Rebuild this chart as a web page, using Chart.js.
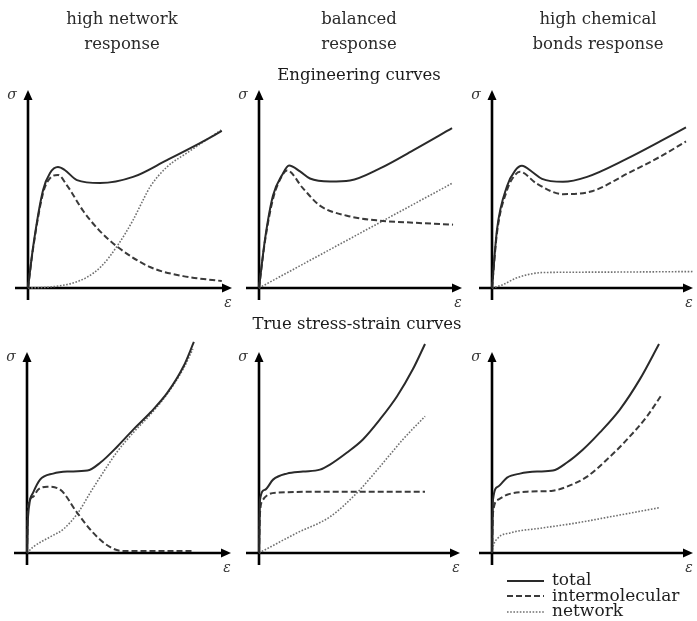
<!DOCTYPE html>
<html><head><meta charset="utf-8">
<script src="https://cdn.jsdelivr.net/npm/chart.js@4.4.0/dist/chart.umd.min.js"></script>
<style>
html,body{margin:0;padding:0;background:#fff;width:697px;height:621px;overflow:hidden;font-family:"DejaVu Serif",serif;}
#wrap{position:relative;width:697px;height:621px;}
#wrap canvas{position:absolute;left:0;top:0;}
.t{position:absolute;text-align:center;color:#2a2a2a;font-size:16.5px;line-height:25px;white-space:nowrap;transform:translateX(-50%);}
.h{position:absolute;text-align:center;color:#1a1a1a;font-size:16.5px;line-height:18px;white-space:nowrap;transform:translateX(-50%);}
#legend{position:absolute;left:507px;top:572px;font-size:17px;line-height:15.5px;color:#1e1e1e;}
#legend div{white-space:nowrap;height:15.5px;}
#legend svg{vertical-align:middle;margin-right:8px;}
</style></head><body>
<div id="wrap">
<canvas id="c1" width="697" height="621"></canvas>
<canvas id="c2" width="697" height="621"></canvas>
<canvas id="c3" width="697" height="621"></canvas>
<canvas id="c4" width="697" height="621"></canvas>
<canvas id="c5" width="697" height="621"></canvas>
<canvas id="c6" width="697" height="621"></canvas>
<div class="t" style="left:122px;top:6px">high network<br>response</div>
<div class="t" style="left:359px;top:6px">balanced<br>response</div>
<div class="t" style="left:598px;top:6px">high chemical<br>bonds response</div>
<div class="h" style="left:359px;top:66px">Engineering curves</div>
<div class="h" style="left:357px;top:315px">True stress-strain curves</div>
<div id="legend"></div>
</div>
<script>
// ---- data ----
const seriesNames = ['total', 'intermolecular', 'network'];
const columnTitles = ['high network response', 'balanced response', 'high chemical bonds response'];
const rowTitles = ['Engineering curves', 'True stress-strain curves'];
const axisMin = 0, axisMax = 10;

// Engineering curves
const engNetworkTotal = [[0,0],[0.25,2.07],[0.74,4.95],[1.08,5.81],[1.47,6.11],[1.8,5.96],[2.4,5.45],[3.53,5.3],[5.15,5.61],[6.81,6.46],[8.43,7.32],[9.5,7.93]];
const engNetworkInter = [[0,0],[0.25,2.0],[0.74,4.8],[1.08,5.55],[1.47,5.71],[1.9,5.2],[2.7,3.9],[3.5,2.9],[4.36,2.1],[5.98,1.06],[7.6,0.6],[9.5,0.35]];
const engNetworkNet   = [[0,0],[1.08,0.05],[2.2,0.25],[2.9,0.55],[3.6,1.1],[4.36,2.1],[5.15,3.43],[5.64,4.44],[5.98,5.1],[6.81,6.11],[7.79,6.82],[9.5,8.0]];

const engBalancedTotal = [[0,0],[0.3,2.49],[0.69,4.67],[1.13,5.69],[1.48,6.19],[2.02,5.89],[2.51,5.53],[3.5,5.38],[4.48,5.43],[5.96,6.04],[7.59,6.95],[9.51,8.07]];
const engBalancedInter = [[0,0],[0.3,2.4],[0.69,4.5],[1.1,5.6],[1.38,5.94],[2.17,5.03],[3.0,4.16],[4.33,3.65],[5.96,3.4],[7.59,3.3],[9.56,3.2]];
const engBalancedNet   = [[0,0],[9.5,5.28]];

const engChemTotal = [[0,0],[0.25,2.96],[0.75,5.15],[1.14,5.92],[1.49,6.17],[1.99,5.87],[2.49,5.51],[3.53,5.36],[4.73,5.61],[6.72,6.53],[8.36,7.4],[9.65,8.11]];
const engChemInter = [[0,0],[0.25,2.8],[0.75,4.95],[1.1,5.65],[1.39,5.87],[2.24,5.26],[3.53,4.74],[5.02,4.9],[6.72,5.77],[8.36,6.63],[9.65,7.4]];
const engChemNet   = [[0,0],[0.5,0.15],[1.2,0.5],[2.0,0.72],[2.5,0.78],[5,0.8],[10,0.83]];

// True stress-strain curves
const trueNetworkTotal = [[0,0],[0.05,1.8],[0.3,3.0],[0.64,3.65],[1.28,3.95],[1.97,4.05],[2.96,4.1],[3.6,4.5],[4.43,5.3],[5.22,6.15],[6.06,7.0],[6.9,8.0],[7.68,9.3],[8.18,10.5]];
const trueNetworkInter = [[0,0],[0.05,2.3],[0.3,2.8],[0.54,3.15],[0.99,3.3],[1.63,3.15],[2.46,2.0],[3.25,1.0],[4.06,0.3],[4.7,0.1],[8.18,0.1]];
const trueNetworkNet   = [[0,0],[0.3,0.3],[1.13,0.8],[1.8,1.2],[2.5,2.0],[3.1,3.0],[3.6,3.8],[4.43,5.05],[5.22,6.0],[6.06,6.9],[6.9,7.95],[7.68,9.2],[8.13,10.15]];

const trueBalancedTotal = [[0,0],[0.05,2.65],[0.3,3.15],[0.7,3.65],[1.39,3.95],[2.19,4.05],[3.03,4.15],[3.53,4.4],[4.38,5.0],[5.17,5.65],[6.02,6.65],[6.87,7.8],[7.66,9.15],[8.26,10.4]];
const trueBalancedInter = [[0,0],[0.05,2.0],[0.2,2.65],[0.45,2.9],[0.9,3.0],[3.53,3.05],[8.26,3.05]];
const trueBalancedNet   = [[0,0],[1.89,1.0],[3.53,1.8],[4.88,3.0],[6.02,4.3],[7.16,5.65],[8.26,6.8]];

const trueChemTotal = [[0,0],[0.05,2.65],[0.3,3.3],[0.75,3.75],[1.39,3.95],[2.24,4.05],[3.03,4.1],[3.73,4.5],[4.53,5.15],[5.37,6.0],[6.37,7.15],[7.36,8.65],[8.31,10.4]];
const trueChemInter = [[0,0],[0.05,2.0],[0.3,2.65],[0.75,2.9],[1.74,3.05],[3.03,3.1],[3.73,3.3],[4.73,3.8],[5.72,4.65],[6.72,5.65],[7.71,6.8],[8.46,7.9]];
const trueChemNet   = [[0,0],[0.05,0.3],[0.3,0.75],[0.9,1.0],[2.54,1.25],[4.23,1.5],[5.87,1.8],[8.31,2.25]];

// ---- layout & style (kept apart from data) ----
const W = 697, H = 621;
const panels = [
  {id:'c1', ox:28,  oy:288, rx:232, ty:90,  sets:[engNetworkTotal, engNetworkInter, engNetworkNet]},
  {id:'c2', ox:259, oy:288, rx:462, ty:90,  sets:[engBalancedTotal, engBalancedInter, engBalancedNet]},
  {id:'c3', ox:492, oy:288, rx:693, ty:90,  sets:[engChemTotal, engChemInter, engChemNet]},
  {id:'c4', ox:27,  oy:553, rx:231, ty:352, sets:[trueNetworkTotal, trueNetworkInter, trueNetworkNet]},
  {id:'c5', ox:259, oy:553, rx:460, ty:352, sets:[trueBalancedTotal, trueBalancedInter, trueBalancedNet]},
  {id:'c6', ox:492, oy:553, rx:693, ty:352, sets:[trueChemTotal, trueChemInter, trueChemNet]}
];
const styles = [
  {color:'#2a2a2a', width:2.0, dash:[]},
  {color:'#3a3a3a', width:2.0, dash:[6,3]},
  {color:'#707070', width:1.6, dash:[1.6,1.6]}
];

const arrowAxes = {
  id:'arrowAxes',
  beforeDatasetsDraw(chart){
    const {ctx} = chart, xs = chart.scales.x, ys = chart.scales.y;
    const x0 = xs.getPixelForValue(axisMin), y0 = ys.getPixelForValue(axisMin);
    const xr = xs.getPixelForValue(axisMax), yt = ys.getPixelForValue(axisMax);
    ctx.save();
    ctx.strokeStyle = '#000'; ctx.fillStyle = '#000'; ctx.lineWidth = 2.6;
    ctx.beginPath();
    ctx.moveTo(x0 - 13, y0); ctx.lineTo(xr - 6, y0);
    ctx.moveTo(x0, y0 + 12); ctx.lineTo(x0, yt + 6);
    ctx.stroke();
    ctx.beginPath(); ctx.moveTo(xr, y0); ctx.lineTo(xr - 10, y0 - 4.5); ctx.lineTo(xr - 10, y0 + 4.5); ctx.closePath(); ctx.fill();
    ctx.beginPath(); ctx.moveTo(x0, yt); ctx.lineTo(x0 - 4.5, yt + 10); ctx.lineTo(x0 + 4.5, yt + 10); ctx.closePath(); ctx.fill();
    ctx.fillStyle = '#333';
    ctx.font = 'italic 14px "DejaVu Serif"';
    ctx.textAlign = 'center'; ctx.textBaseline = 'middle';
    ctx.fillText('σ', x0 - 16, yt + 5);
    ctx.fillText('ε', xr - 4, y0 + 15);
    ctx.restore();
  }
};

panels.forEach(p => {
  new Chart(document.getElementById(p.id), {
    type:'line',
    data:{datasets: p.sets.map((pts, i) => ({
      label: seriesNames[i],
      data: pts.map(q => ({x:q[0], y:q[1]})),
      borderColor: styles[i].color,
      borderWidth: styles[i].width,
      borderDash: styles[i].dash,
      pointRadius: 0,
      fill: false,
      cubicInterpolationMode: 'monotone',
      clip: false
    }))},
    options:{
      responsive:false, animation:false, events:[],
      layout:{padding:{left:p.ox, top:p.ty, right:W - p.rx, bottom:H - p.oy}},
      plugins:{legend:{display:false}, tooltip:{enabled:false}, title:{display:false}},
      scales:{
        x:{type:'linear', min:axisMin, max:axisMax, display:false},
        y:{type:'linear', min:axisMin, max:axisMax, display:false}
      }
    },
    plugins:[arrowAxes]
  });
});

// legend built from series names and styles
const lg = document.getElementById('legend');
seriesNames.forEach((n, i) => {
  const d = document.createElement('div');
  const s = styles[i];
  d.innerHTML = '<svg width="37" height="6"><line x1="0" y1="3" x2="37" y2="3" stroke="' + s.color +
    '" stroke-width="' + s.width + '" stroke-dasharray="' + (s.dash.length ? s.dash.join(',') : 'none') + '"/></svg>' + n;
  lg.appendChild(d);
});
</script>
</body></html>
